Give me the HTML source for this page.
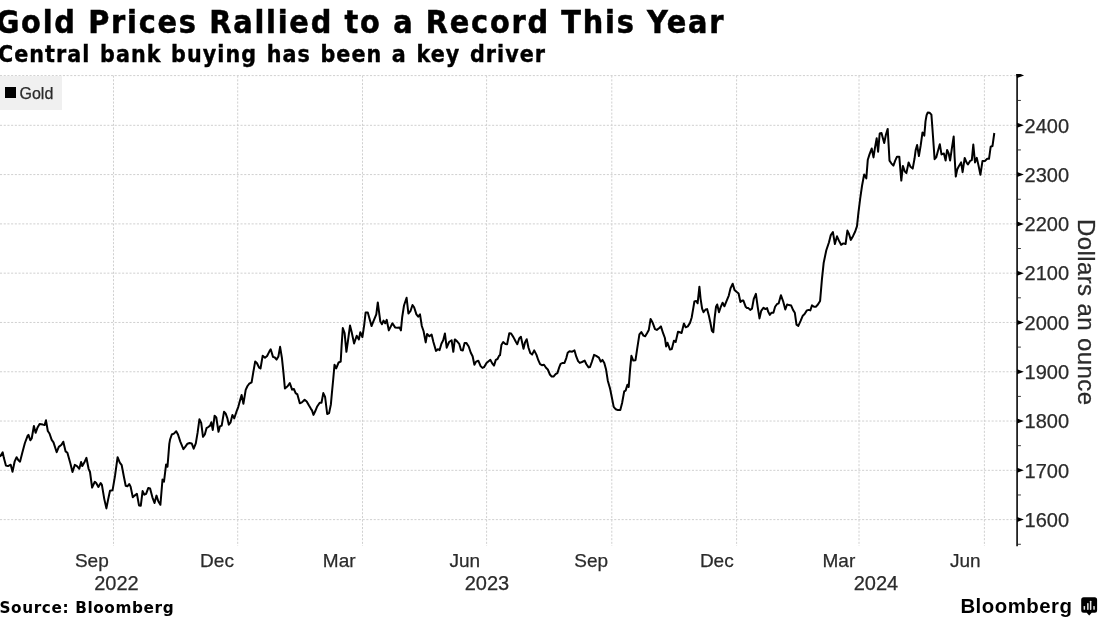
<!DOCTYPE html>
<html lang="en">
<head>
<meta charset="utf-8">
<title>Gold Prices Rallied to a Record This Year</title>
<style>
html,body{margin:0;padding:0;background:#fff;}
body{width:1099px;height:617px;overflow:hidden;position:relative;}
svg{display:block;position:absolute;left:0;top:0;}
.hd{font-family:"DejaVu Sans Condensed","DejaVu Sans",sans-serif;font-weight:bold;font-stretch:condensed;fill:#000;}
.ax{font-family:"Liberation Sans",sans-serif;fill:#2b2b2b;}
</style>
</head>
<body>
<svg width="1099" height="617" viewBox="0 0 1099 617">
<rect x="0" y="0" width="1099" height="617" fill="#ffffff"/>
<!-- titles -->
<text class="hd" x="-4.3" y="33" font-size="32" letter-spacing="1.78" word-spacing="-0.3" stroke="#000" stroke-width="0.5" textLength="729.6" lengthAdjust="spacingAndGlyphs">Gold Prices Rallied to a Record This Year</text>
<text class="hd" x="-2" y="62.2" font-size="23" letter-spacing="1.05" word-spacing="1.35" stroke="#000" stroke-width="0.35" textLength="548.05" lengthAdjust="spacingAndGlyphs">Central bank buying has been a key driver</text>
<!-- legend -->
<rect x="0" y="76" width="62" height="34" fill="#f0f0f0"/>
<!-- grid -->
<g stroke="#d0d0d0" stroke-width="1" stroke-dasharray="2.1 1.6" fill="none">
<line x1="113.5" y1="75.6" x2="113.5" y2="546"/><line x1="237.7" y1="75.6" x2="237.7" y2="546"/><line x1="362.5" y1="75.6" x2="362.5" y2="546"/><line x1="486.6" y1="75.6" x2="486.6" y2="546"/><line x1="611.8" y1="75.6" x2="611.8" y2="546"/><line x1="736.6" y1="75.6" x2="736.6" y2="546"/><line x1="859.0" y1="75.6" x2="859.0" y2="546"/><line x1="984.4" y1="75.6" x2="984.4" y2="546"/><line x1="0" y1="75.6" x2="1016" y2="75.6"/><line x1="0" y1="125.3" x2="1016" y2="125.3"/><line x1="0" y1="174.59" x2="1016" y2="174.59"/><line x1="0" y1="223.88" x2="1016" y2="223.88"/><line x1="0" y1="273.17" x2="1016" y2="273.17"/><line x1="0" y1="322.46" x2="1016" y2="322.46"/><line x1="0" y1="371.75" x2="1016" y2="371.75"/><line x1="0" y1="421.04" x2="1016" y2="421.04"/><line x1="0" y1="470.33" x2="1016" y2="470.33"/><line x1="0" y1="519.62" x2="1016" y2="519.62"/>
</g>
<rect x="0" y="76" width="62" height="34" fill="#f0f0f0"/>
<rect x="5" y="87" width="11" height="11" fill="#000"/>
<text class="ax" x="19.5" y="98.6" font-size="16" stroke="#2b2b2b" stroke-width="0.25">Gold</text>
<!-- axis -->
<g stroke="#222" stroke-width="1.8" fill="none">
<line x1="1017.1" y1="74.1" x2="1017.1" y2="546.3"/>
</g>
<g stroke="#222" stroke-width="0.9" fill="none">
<line x1="1017.1" y1="100.44999999999999" x2="1020.9" y2="100.44999999999999"/><line x1="1017.1" y1="149.945" x2="1020.9" y2="149.945"/><line x1="1017.1" y1="199.235" x2="1020.9" y2="199.235"/><line x1="1017.1" y1="248.525" x2="1020.9" y2="248.525"/><line x1="1017.1" y1="297.815" x2="1020.9" y2="297.815"/><line x1="1017.1" y1="347.105" x2="1020.9" y2="347.105"/><line x1="1017.1" y1="396.395" x2="1020.9" y2="396.395"/><line x1="1017.1" y1="445.685" x2="1020.9" y2="445.685"/><line x1="1017.1" y1="494.975" x2="1020.9" y2="494.975"/><line x1="1017.1" y1="544.27" x2="1020.9" y2="544.27"/>
</g>
<g fill="#000" stroke="none">
<path d="M1016.2 74.1 L1020.6 74.1 L1024.1 75.6 L1017.1 78 Z"/>
<path d="M1017.1 122.80 L1023.9 125.3 L1017.1 127.80 Z"/><path d="M1017.1 172.09 L1023.9 174.59 L1017.1 177.09 Z"/><path d="M1017.1 221.38 L1023.9 223.88 L1017.1 226.38 Z"/><path d="M1017.1 270.67 L1023.9 273.17 L1017.1 275.67 Z"/><path d="M1017.1 319.96 L1023.9 322.46 L1017.1 324.96 Z"/><path d="M1017.1 369.25 L1023.9 371.75 L1017.1 374.25 Z"/><path d="M1017.1 418.54 L1023.9 421.04 L1017.1 423.54 Z"/><path d="M1017.1 467.83 L1023.9 470.33 L1017.1 472.83 Z"/><path d="M1017.1 517.12 L1023.9 519.62 L1017.1 522.12 Z"/>
</g>
<g class="ax" font-size="20" stroke="#2b2b2b" stroke-width="0.25">
<text x="1024.6" y="132.60">2400</text><text x="1024.6" y="181.89">2300</text><text x="1024.6" y="231.18">2200</text><text x="1024.6" y="280.47">2100</text><text x="1024.6" y="329.76">2000</text><text x="1024.6" y="379.05">1900</text><text x="1024.6" y="428.34">1800</text><text x="1024.6" y="477.63">1700</text><text x="1024.6" y="526.92">1600</text>
<text x="91.85" y="567" text-anchor="middle" font-size="19">Sep</text><text x="217.0" y="567" text-anchor="middle" font-size="19">Dec</text><text x="339.2" y="567" text-anchor="middle" font-size="19">Mar</text><text x="464.7" y="567" text-anchor="middle" font-size="19">Jun</text><text x="591.2" y="567" text-anchor="middle" font-size="19">Sep</text><text x="716.8" y="567" text-anchor="middle" font-size="19">Dec</text><text x="838.9" y="567" text-anchor="middle" font-size="19">Mar</text><text x="965.2" y="567" text-anchor="middle" font-size="19">Jun</text>
<text x="116.5" y="590" text-anchor="middle">2022</text><text x="487" y="590" text-anchor="middle">2023</text><text x="876" y="590" text-anchor="middle">2024</text>
</g>
<text class="ax" font-size="24" letter-spacing="0.4" word-spacing="0" stroke="#2b2b2b" stroke-width="0.25" transform="translate(1077.8 219) rotate(90)">Dollars an ounce</text>
<!-- series -->
<path d="M0.0 456.7 L2.7 452.4 L3.9 458.1 L5.9 465.6 L8.0 466.1 L10.7 464.7 L12.5 471.8 L14.6 461.7 L16.6 457.2 L18.4 460.3 L20.0 461.7 L22.3 452.8 L24.9 443.0 L27.6 435.8 L28.5 434.9 L30.3 440.3 L31.7 438.5 L33.9 426.0 L35.6 432.8 L37.4 427.8 L39.6 423.9 L42.8 424.6 L44.6 425.1 L46.0 420.3 L47.8 431.0 L49.5 433.5 L51.7 439.9 L53.5 442.4 L56.7 452.2 L58.8 446.9 L61.5 444.8 L63.3 441.7 L65.6 451.4 L67.4 452.8 L70.4 463.5 L72.5 472.0 L74.8 464.9 L77.0 466.1 L79.3 468.8 L81.1 462.0 L82.3 466.1 L84.7 461.7 L86.4 457.8 L88.6 468.8 L90.0 472.0 L92.1 487.5 L94.8 481.8 L96.2 483.1 L98.4 487.0 L100.7 483.1 L101.9 484.9 L104.3 499.1 L106.4 508.4 L108.2 499.1 L110.0 490.7 L112.6 490.2 L115.0 475.9 L117.6 457.2 L119.8 462.6 L121.7 465.2 L123.9 476.8 L125.7 485.7 L127.4 486.3 L129.2 484.0 L130.6 486.6 L132.8 497.3 L134.6 495.6 L136.9 493.8 L139.0 505.4 L140.8 505.7 L142.6 491.1 L144.4 494.7 L146.1 493.8 L148.3 487.9 L150.1 488.4 L152.4 497.3 L154.5 503.0 L156.5 495.6 L158.3 501.2 L160.4 504.8 L162.5 479.5 L164.0 481.6 L166.1 464.4 L167.5 466.7 L169.3 443.9 L170.0 439.8 L171.8 434.5 L173.9 433.6 L176.2 431.2 L178.0 434.5 L180.3 441.6 L183.4 449.1 L185.2 446.9 L187.5 443.7 L189.6 443.0 L191.7 443.4 L193.7 448.7 L195.8 443.4 L197.6 432.7 L199.4 419.3 L201.2 422.9 L203.0 436.8 L204.8 434.5 L206.5 428.2 L208.3 427.0 L210.1 425.6 L211.3 422.3 L212.8 430.0 L214.6 415.7 L216.3 417.5 L218.5 431.8 L219.9 426.4 L221.7 425.6 L224.0 411.8 L225.6 413.4 L227.4 418.4 L228.8 424.7 L230.6 422.3 L232.4 414.9 L234.2 418.4 L236.3 412.2 L238.3 406.8 L240.0 400.6 L241.6 394.9 L243.4 403.8 L245.7 389.9 L247.5 386.0 L249.3 383.7 L251.6 382.4 L253.4 371.7 L255.2 361.4 L257.0 363.2 L259.1 367.6 L260.5 368.5 L262.7 355.7 L265.0 357.8 L267.1 356.0 L269.3 351.6 L270.7 349.3 L273.0 356.9 L274.8 357.5 L276.6 359.6 L278.4 356.4 L280.1 346.8 L281.9 357.8 L283.4 372.1 L284.9 388.5 L287.6 386.3 L289.8 383.1 L292.1 389.6 L293.9 389.0 L295.6 393.1 L297.4 394.4 L299.8 403.3 L301.9 402.4 L304.6 399.7 L306.7 401.5 L309.0 405.6 L310.8 408.6 L312.0 410.4 L313.5 414.9 L315.2 411.3 L317.0 406.8 L319.7 402.7 L321.5 402.7 L323.3 393.1 L325.1 397.0 L327.2 414.0 L329.1 413.1 L330.9 404.2 L331.8 394.1 L333.2 379.5 L334.5 364.8 L336.2 368.4 L338.6 362.5 L340.7 361.6 L341.6 345.6 L342.8 328.1 L344.6 333.1 L346.4 351.8 L347.8 342.0 L350.0 325.6 L351.7 332.2 L354.1 343.5 L356.7 335.8 L358.9 339.4 L360.3 332.2 L362.4 337.0 L364.2 325.1 L365.6 312.6 L367.8 312.6 L369.6 318.9 L371.5 326.0 L373.7 320.6 L376.3 314.4 L377.8 302.5 L379.0 311.7 L380.3 321.5 L382.0 324.2 L383.5 320.6 L385.2 323.3 L386.7 319.8 L388.8 330.4 L390.6 326.9 L392.4 323.3 L395.1 327.4 L397.7 327.8 L399.5 327.4 L400.9 330.4 L402.2 317.1 L404.0 305.5 L406.6 297.8 L408.4 313.5 L410.6 310.8 L412.5 305.0 L414.1 307.3 L416.4 314.4 L418.2 316.7 L420.0 314.4 L421.8 326.0 L423.6 331.3 L425.7 342.4 L427.1 334.0 L429.4 336.3 L431.6 334.6 L433.4 342.0 L436.0 350.9 L437.8 349.2 L439.6 350.1 L441.4 343.8 L443.2 340.2 L444.9 333.5 L446.7 347.7 L449.1 342.0 L451.6 340.2 L453.3 351.8 L454.8 339.4 L456.9 341.1 L459.2 343.8 L461.0 350.1 L462.8 350.6 L464.6 342.9 L466.3 342.9 L468.7 346.5 L470.8 352.7 L472.6 356.3 L474.4 364.8 L476.1 361.6 L478.3 360.7 L480.6 366.1 L482.4 367.9 L484.2 367.0 L486.5 363.1 L488.6 361.3 L490.4 359.9 L492.2 363.4 L494.0 365.6 L495.8 359.9 L497.5 359.0 L499.3 355.4 L500.0 355.3 L501.4 345.1 L503.2 342.1 L505.4 343.9 L507.1 344.2 L509.3 333.2 L511.1 333.5 L513.4 337.1 L515.7 341.5 L517.3 344.2 L519.2 338.5 L520.9 336.7 L522.3 343.3 L523.5 348.7 L525.0 342.4 L526.7 339.2 L528.5 347.8 L530.3 353.1 L532.1 354.6 L534.2 350.4 L536.5 354.9 L538.3 360.2 L540.1 364.2 L541.9 365.2 L544.0 364.7 L546.0 367.7 L547.8 369.5 L549.9 374.5 L551.7 376.6 L553.5 376.6 L555.6 374.1 L557.4 373.1 L559.2 367.4 L560.6 363.8 L562.7 362.9 L564.5 362.9 L566.3 358.1 L567.7 352.8 L569.5 351.3 L572.2 351.7 L574.5 350.4 L576.3 356.7 L578.1 361.1 L579.8 362.9 L582.0 362.0 L584.7 360.6 L586.4 364.2 L588.6 367.4 L590.0 367.0 L591.8 362.0 L594.1 354.9 L596.2 355.8 L598.9 357.6 L600.7 361.7 L602.5 359.9 L604.3 362.9 L606.0 369.2 L607.8 380.7 L610.1 388.8 L611.9 397.7 L613.7 406.9 L615.8 409.3 L618.0 410.1 L620.3 410.1 L622.1 403.0 L624.2 391.4 L625.6 390.6 L627.4 384.8 L628.7 387.0 L630.1 369.2 L631.4 355.8 L633.3 360.6 L635.5 360.2 L637.2 348.7 L639.4 334.4 L641.3 332.1 L643.5 335.6 L645.2 336.2 L647.0 333.2 L648.8 329.9 L650.6 318.9 L652.7 322.8 L655.0 329.1 L656.8 329.9 L659.0 328.2 L660.9 326.4 L663.1 333.2 L664.9 338.0 L666.1 346.4 L667.5 342.8 L670.0 349.6 L671.8 349.1 L673.9 340.7 L675.7 341.9 L678.0 331.8 L679.8 332.3 L681.6 333.0 L683.9 323.4 L685.7 327.3 L687.8 326.4 L690.0 322.9 L691.7 317.5 L693.5 306.8 L694.4 301.5 L696.2 300.9 L697.6 303.3 L699.4 286.7 L700.6 298.8 L702.1 308.6 L703.5 312.2 L705.6 309.5 L707.1 309.1 L708.9 315.7 L710.6 323.8 L711.9 330.9 L713.3 332.3 L714.6 318.4 L716.0 306.8 L717.2 304.5 L719.0 312.2 L720.8 306.8 L722.6 302.7 L724.4 306.3 L726.7 300.6 L728.8 295.6 L730.6 288.1 L732.7 283.7 L734.5 289.9 L736.8 292.0 L738.6 293.5 L740.4 302.0 L742.2 300.6 L743.4 300.6 L745.7 306.8 L747.0 308.1 L748.4 308.1 L750.2 309.9 L752.0 308.6 L753.8 298.8 L755.9 293.8 L757.7 306.8 L759.5 318.4 L761.2 310.9 L763.6 307.7 L765.4 309.1 L767.1 308.1 L768.0 311.3 L769.8 314.9 L771.6 312.7 L773.4 312.7 L775.1 306.8 L776.9 304.2 L778.7 303.3 L780.9 295.2 L783.2 301.5 L785.3 309.5 L787.1 304.5 L789.0 305.1 L791.2 305.6 L793.0 309.9 L794.8 312.7 L796.5 324.7 L798.3 325.9 L800.5 321.1 L802.8 315.7 L804.6 314.0 L806.9 310.4 L808.7 309.9 L810.3 310.4 L812.0 305.4 L814.0 306.8 L815.8 306.8 L817.9 304.5 L820.1 300.9 L821.9 279.6 L823.7 262.7 L826.3 250.2 L829.0 242.2 L830.8 235.1 L832.9 232.0 L834.0 238.6 L834.9 244.0 L837.0 236.3 L838.8 240.4 L841.1 244.8 L843.3 243.4 L845.6 244.0 L847.4 230.6 L849.1 234.2 L850.8 239.9 L853.1 235.9 L855.2 231.5 L857.0 226.1 L858.4 212.8 L860.2 198.5 L862.0 186.0 L863.8 176.2 L864.2 174.5 L866.3 178.4 L867.8 159.7 L869.5 154.4 L871.7 148.5 L873.5 157.4 L874.9 148.1 L876.7 138.3 L878.1 151.7 L879.7 133.5 L881.5 133.0 L882.7 137.4 L884.2 143.1 L885.9 134.8 L887.7 128.9 L888.6 144.6 L889.5 160.6 L891.3 163.3 L893.4 165.6 L895.2 160.6 L897.0 156.7 L899.3 156.7 L900.2 167.7 L901.3 180.6 L902.9 165.9 L904.7 171.3 L906.4 173.1 L908.6 162.4 L910.5 166.8 L912.7 168.6 L914.5 158.8 L915.7 149.9 L917.1 144.9 L918.9 156.1 L920.7 145.4 L922.5 132.4 L924.3 135.6 L925.5 121.4 L926.6 115.2 L927.8 112.5 L929.6 112.8 L931.4 114.6 L932.3 126.7 L933.7 146.3 L934.6 159.2 L936.2 157.4 L938.0 150.8 L939.8 144.2 L941.5 154.4 L943.9 153.5 L945.6 160.6 L947.1 149.9 L948.7 153.5 L950.1 160.6 L951.9 148.1 L953.7 136.5 L954.6 157.0 L955.8 176.6 L957.2 169.5 L959.0 165.9 L961.1 162.4 L962.6 172.2 L964.7 157.9 L966.5 162.4 L967.9 164.5 L970.1 160.9 L971.8 160.2 L973.3 144.6 L975.0 162.4 L976.8 157.9 L978.6 165.9 L980.4 174.8 L982.5 160.9 L984.9 160.9 L987.2 158.8 L989.0 158.8 L990.7 146.7 L992.5 146.0 L994.3 133.0" fill="none" stroke="#000" stroke-width="2" stroke-linejoin="round" stroke-linecap="butt"/>
<!-- footer -->
<text x="-0.5" y="613.4" font-family="'DejaVu Sans',sans-serif" font-weight="bold" font-size="15.3" letter-spacing="0.6" word-spacing="0" fill="#000" textLength="174.73" lengthAdjust="spacingAndGlyphs">Source: Bloomberg</text>
<text x="960.4" y="612.6" font-family="'Liberation Sans',sans-serif" font-weight="bold" font-size="20.4" letter-spacing="0.5" fill="#000">Bloomberg</text>
<g>
<path d="M1083.7 597.2 h10.9 a2.5 2.5 0 0 1 2.5 2.5 v10.5 a2.5 2.5 0 0 1 -2.5 2.5 h-2.9 l-2.5 2.8 l-2.5 -2.8 h-3 a2.5 2.5 0 0 1 -2.5 -2.5 v-10.5 a2.5 2.5 0 0 1 2.5 -2.5 z" fill="#000"/>
<rect x="1083.6" y="606" width="1.5" height="3.8" rx="0.6" fill="#e6e6e6"/>
<rect x="1087.1" y="603.1" width="1.5" height="6.8" rx="0.6" fill="#e6e6e6"/>
<rect x="1089.9" y="600.7" width="1.5" height="9.2" rx="0.6" fill="#e6e6e6"/>
<rect x="1093.3" y="606" width="1.5" height="3.8" rx="0.6" fill="#e6e6e6"/>
</g>
</svg>
</body>
</html>
